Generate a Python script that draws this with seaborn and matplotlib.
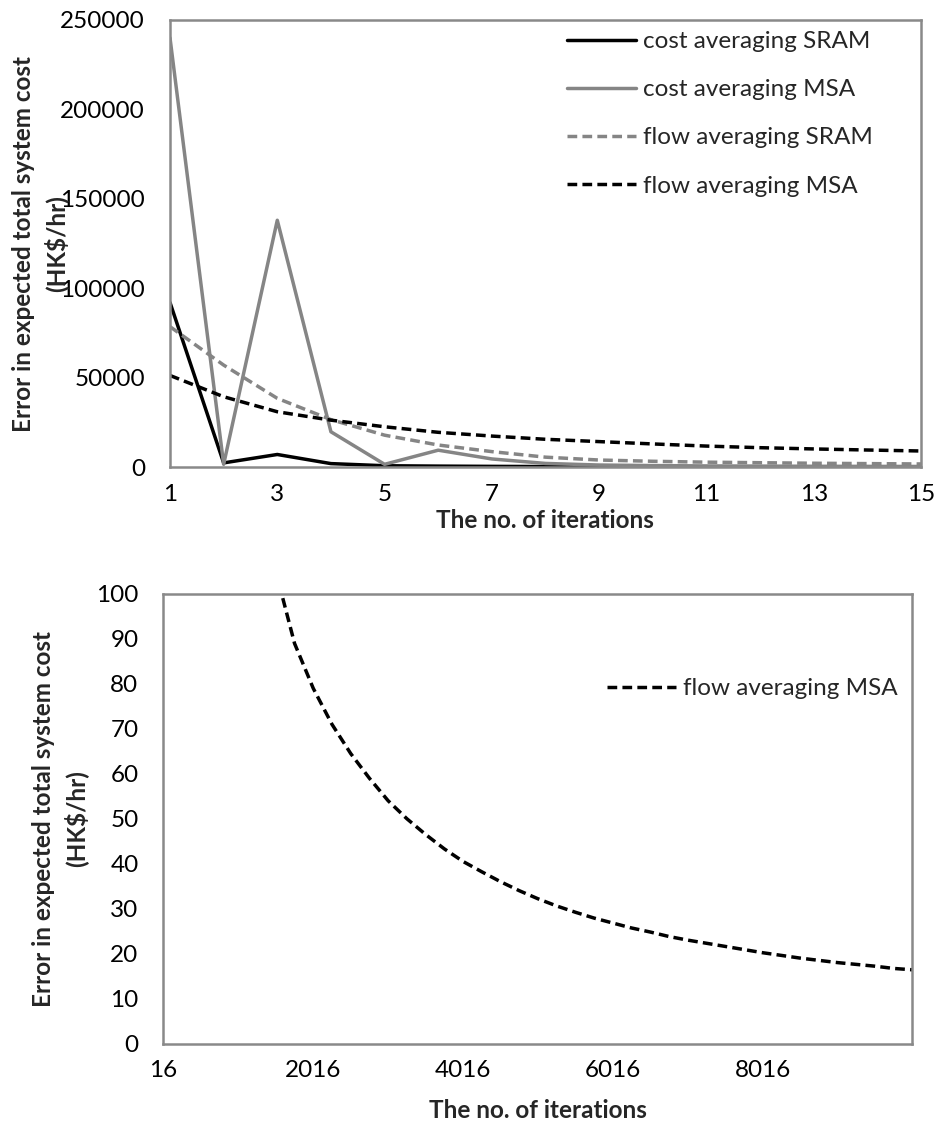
import matplotlib
matplotlib.use("Agg")
import matplotlib.pyplot as plt
import numpy as np
import pandas as pd
import seaborn as sns

# ---------------- data: top chart ----------------
iterations_top = list(range(1, 16))
cost_avg_sram = [92000, 2300, 7000, 1900, 700, 500, 350, 250, 200, 150, 120, 100, 80, 70, 60]
cost_avg_msa = [240000, 1500, 138000, 19700, 1500, 9400, 4500, 2000, 1100, 800, 600, 500, 400, 350, 300]
flow_avg_sram = [78500, 57000, 38400, 26500, 17800, 12300, 8600, 5500, 3900, 3200, 2700, 2400, 2100, 1900, 1700]
flow_avg_msa = [51200, 39300, 30900, 26200, 22500, 19400, 17300, 15500, 14200, 12900, 11700, 10800, 10100, 9500, 8950]
series_names = ["cost averaging SRAM", "cost averaging MSA", "flow averaging SRAM", "flow averaging MSA"]
top_xticks = [1, 3, 5, 7, 9, 11, 13, 15]
top_yticks = [0, 50000, 100000, 150000, 200000, 250000]

# ---------------- data: bottom chart ----------------
iterations_bottom = [1016, 1266, 1516, 1766, 2016, 2266, 2516, 2766, 3016, 3266, 3516, 3766,
                     4016, 4266, 4516, 4766, 5016, 5266, 5516, 5766, 6016, 6266, 6516, 6766,
                     7016, 7266, 7516, 7766, 8016, 8266, 8516, 8766, 9016, 9266, 9516, 9766, 10015]
flow_avg_msa_long = [158, 127, 105, 89, 79, 71, 64.5, 59, 54, 50, 46.5, 43.3,
                     40.5, 38.2, 36, 34, 32.2, 30.6, 29.2, 27.9, 26.8, 25.7, 24.8, 23.8,
                     23.0, 22.3, 21.6, 20.9, 20.2, 19.6, 19.0, 18.5, 18.0, 17.6, 17.2, 16.7, 16.4]
bottom_xticks = [16, 2016, 4016, 6016, 8016]
bottom_yticks = [0, 10, 20, 30, 40, 50, 60, 70, 80, 90, 100]

ylabel_text = "Error in expected total system cost\n(HK$/hr)"
xlabel_text = "The no. of iterations"

sns.set_theme(style="white")
plt.rcParams["font.family"] = ["Lato", "DejaVu Sans"]
plt.rcParams["lines.dash_capstyle"] = "butt"

FS = 17.5
SPINE = "#898989"
GREY = "#858585"
W, H = 937, 1131

fig = plt.figure(figsize=(W / 100, H / 100), dpi=100)
fig.patch.set_facecolor("white")
ax1 = fig.add_axes([170 / W, 1 - 467 / H, 751 / W, 447 / H])
ax2 = fig.add_axes([163.5 / W, 1 - 1043.5 / H, 748.8 / W, 449.5 / H])

palette = {
    "cost averaging SRAM": "black",
    "cost averaging MSA": GREY,
    "flow averaging SRAM": GREY,
    "flow averaging MSA": "black",
}
dash = (2.8, 1.5)
dashes = {
    "cost averaging SRAM": "",
    "cost averaging MSA": "",
    "flow averaging SRAM": dash,
    "flow averaging MSA": dash,
}

df_top = pd.concat([
    pd.DataFrame({"iteration": iterations_top, "error": vals, "series": name})
    for name, vals in zip(series_names, [cost_avg_sram, cost_avg_msa, flow_avg_sram, flow_avg_msa])
], ignore_index=True)

sns.lineplot(data=df_top, x="iteration", y="error", hue="series", style="series",
             hue_order=series_names, style_order=series_names, palette=palette,
             dashes=dashes, linewidth=2.5, errorbar=None, ax=ax1)

df_bot = pd.DataFrame({"iteration": iterations_bottom, "error": flow_avg_msa_long,
                       "series": "flow averaging MSA"})
sns.lineplot(data=df_bot, x="iteration", y="error", hue="series", style="series",
             palette={"flow averaging MSA": "black"}, dashes={"flow averaging MSA": dash},
             linewidth=2.5, errorbar=None, ax=ax2)

# axes styling
for ax in (ax1, ax2):
    for sp in ax.spines.values():
        sp.set_visible(True)
        sp.set_color(SPINE)
        sp.set_linewidth(1.8)
    ax.tick_params(axis="both", which="major", direction="out", length=6, width=1.8,
                   color=SPINE, labelsize=FS, labelcolor="black")
    ax.tick_params(axis="y", pad=12)
    ax.tick_params(axis="x", pad=6)
    ax.set_xlabel("")
    ax.set_ylabel("")
    ax.grid(False)
    ax.set_facecolor("white")

ax1.set_xlim(1, 15)
ax1.set_ylim(0, 250000)
ax1.set_xticks(top_xticks)
ax1.set_xticklabels([str(t) for t in top_xticks])
ax1.set_yticks(top_yticks)
ax1.set_yticklabels([str(t) for t in top_yticks])

ax2.set_xlim(16, 10015)
ax2.set_ylim(0, 100)
ax2.set_xticks(bottom_xticks)
ax2.set_xticklabels([str(t) for t in bottom_xticks])
ax2.set_yticks(bottom_yticks)
ax2.set_yticklabels([str(t) for t in bottom_yticks])

# legends
h, l = ax1.get_legend_handles_labels()
pairs = [(hh, ll) for hh, ll in zip(h, l) if ll in series_names]
ax1.legend([p[0] for p in pairs], [p[1] for p in pairs], loc="upper left",
           bbox_to_anchor=(567 / W, 1 - 31 / H), bbox_transform=fig.transFigure,
           frameon=False, fontsize=FS, handlelength=2.84, handletextpad=0.29,
           labelspacing=1.12, borderpad=0, borderaxespad=0)

h, l = ax2.get_legend_handles_labels()
pairs = [(hh, ll) for hh, ll in zip(h, l) if ll == "flow averaging MSA"]
ax2.legend([p[0] for p in pairs], [p[1] for p in pairs], loc="upper left",
           bbox_to_anchor=(607 / W, 1 - 678 / H), bbox_transform=fig.transFigure,
           frameon=False, fontsize=FS, handlelength=2.84, handletextpad=0.29,
           borderpad=0, borderaxespad=0)

# axis titles
fig.text(40 / W, 1 - 243.5 / H, ylabel_text, rotation=90, ha="center", va="center",
         fontsize=FS, fontweight="bold", linespacing=1.4, multialignment="center")
fig.text(545 / W, 1 - 520 / H, xlabel_text, ha="center", va="center",
         fontsize=FS, fontweight="bold")
fig.text(60 / W, 1 - 818.8 / H, ylabel_text, rotation=90, ha="center", va="center",
         fontsize=FS, fontweight="bold", linespacing=1.4, multialignment="center")
fig.text(538 / W, 1 - 1110 / H, xlabel_text, ha="center", va="center",
         fontsize=FS, fontweight="bold")

fig.savefig("out.png", dpi=100, facecolor="white")
